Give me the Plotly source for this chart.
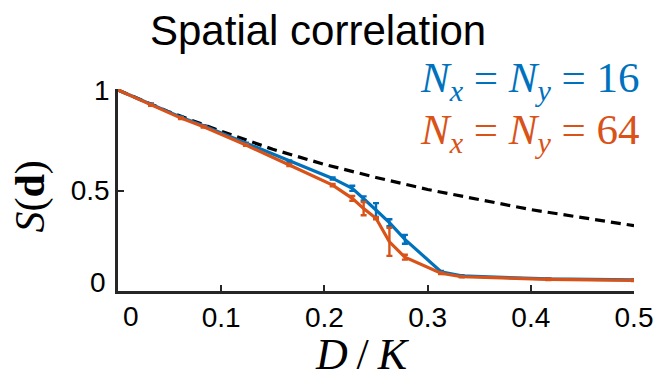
import plotly.graph_objects as go

# ---- data ----
x_vals = [0, 0.032, 0.061, 0.083, 0.124, 0.166, 0.208, 0.227, 0.238, 0.25,
          0.263, 0.278, 0.313, 0.333, 0.417, 0.5]
s16 = [1.0, 0.93, 0.865, 0.822, 0.735, 0.645, 0.56, 0.511, 0.461, 0.403,
       0.34, 0.257, 0.096, 0.075, 0.06, 0.055]
e16 = [0.003, 0.003, 0.003, 0.003, 0.003, 0.004, 0.005, 0.013, 0.01, 0.034,
       0.017, 0.022, 0.004, 0.003, 0.003, 0.003]
s64 = [1.0, 0.925, 0.86, 0.817, 0.726, 0.627, 0.527, 0.461, 0.41, 0.362,
       0.245, 0.168, 0.088, 0.071, 0.058, 0.053]
e64 = [0.003, 0.004, 0.004, 0.004, 0.004, 0.005, 0.006, 0.012, 0.033, 0.005,
       0.07, 0.012, 0.004, 0.003, 0.003, 0.003]
x_ref = [0, 0.05, 0.1, 0.15, 0.2, 0.25, 0.3, 0.35, 0.4, 0.45, 0.5]
s_ref = [1.0, 0.89, 0.795, 0.705, 0.63, 0.565, 0.505, 0.455, 0.405, 0.365, 0.325]

x_ticks = [0, 0.1, 0.2, 0.3, 0.4, 0.5]
x_ticktext = ["0", "0.1", "0.2", "0.3", "0.4", "0.5"]
y_ticks = [0, 0.5, 1]
y_ticktext = ["0", "0.5", "1"]

BLUE = "#0072BD"
ORANGE = "#D95319"
AX = "#262626"
SANS = "Liberation Sans"
SERIF = "Liberation Serif"

fig = go.Figure()
fig.add_trace(go.Scatter(x=x_ref, y=s_ref, mode="lines",
                         line=dict(color="black", width=3.2, dash="10px,6px"),
                         showlegend=False, hoverinfo="skip"))
fig.add_trace(go.Scatter(x=x_vals, y=s16, mode="lines",
                         line=dict(color=BLUE, width=3.2),
                         error_y=dict(type="data", array=e16, color=BLUE,
                                      thickness=2.4, width=3),
                         showlegend=False))
fig.add_trace(go.Scatter(x=x_vals, y=s64, mode="lines",
                         line=dict(color=ORANGE, width=3.2),
                         error_y=dict(type="data", array=e64, color=ORANGE,
                                      thickness=2.4, width=3),
                         showlegend=False))

tickfont = dict(family=SANS, size=28, color="black")
# the "0" labels are drawn as annotations (offset from the corner, as in the reference)
fig.update_xaxes(range=[0, 0.5], tickvals=x_ticks,
                 ticktext=[""] + x_ticktext[1:],
                 showline=True, linecolor=AX, linewidth=2.5, ticks="inside",
                 ticklen=6, tickwidth=1.5, tickcolor=AX, showgrid=False,
                 zeroline=False, tickfont=tickfont)
fig.update_yaxes(range=[0, 1.005], tickvals=y_ticks,
                 ticktext=[""] + y_ticktext[1:],
                 showline=True, linecolor=AX, linewidth=2.5, ticks="inside",
                 ticklen=6, tickwidth=1.5, tickcolor=AX, showgrid=False,
                 zeroline=False, tickfont=tickfont)

# plot area in pixels: x 118..643, y 89..291
pw, ph = 525, 202
def px_to_paper(px, py):
    return (px - 118) / pw, (291 - py) / ph

def ann(text, px, py, font, xanchor="center", angle=0):
    x, y = px_to_paper(px, py)
    return dict(text=text, x=x, y=y, xref="paper", yref="paper",
                xanchor=xanchor, yanchor="middle", showarrow=False,
                textangle=angle, font=font)

annotations = [
    ann("Spatial correlation", 321, 31, dict(family=SANS, size=42, color="black")),
    ann("<i>D</i>&#8201;/&#8201;<i>K</i>", 367, 354, dict(family=SERIF, size=44, color="black")),
    ann("<i>S</i>(<b>d</b>)", 28, 197, dict(family=SERIF, size=42, color="black"), angle=-90),
    ann("<i>N<sub>x</sub></i> = <i>N<sub>y</sub></i> = 16", 651, 81,
        dict(family=SERIF, size=43, color=BLUE), xanchor="right"),
    ann("<i>N<sub>x</sub></i> = <i>N<sub>y</sub></i> = 64", 651, 133,
        dict(family=SERIF, size=43, color=ORANGE), xanchor="right"),
    ann(x_ticktext[0], 131, 316, tickfont),
    ann(y_ticktext[0], 108, 282, tickfont, xanchor="right"),
]

fig.update_layout(width=665, height=391,
                  margin=dict(l=118, r=22, t=89, b=100, pad=0),
                  paper_bgcolor="white", plot_bgcolor="white",
                  font=dict(family=SANS),
                  annotations=annotations, showlegend=False)

fig.write_html("out.html", config={"displayModeBar": False},
               post_script="document.body.style.margin='0px';")
